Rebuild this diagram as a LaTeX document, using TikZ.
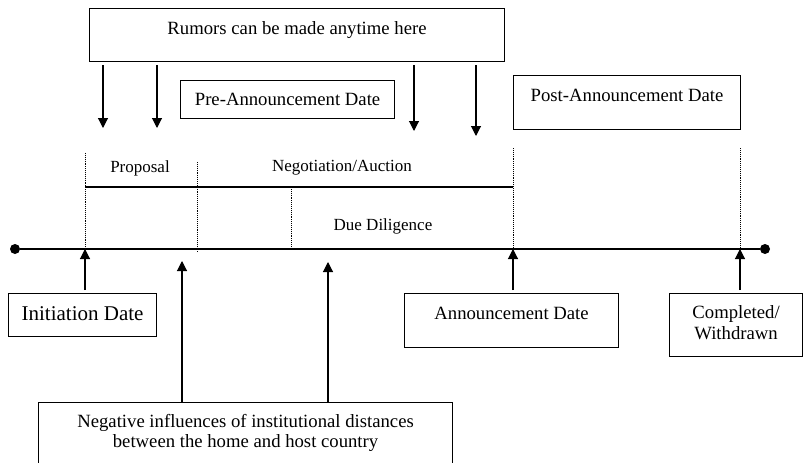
\documentclass[tikz,border=0pt]{standalone}
\usepackage{fontspec}
\setmainfont{Liberation Serif}
\usepackage{tikz}
\usetikzlibrary{arrows.meta, positioning}

\begin{document}
\begin{tikzpicture}[x=1pt, y=-1pt,
    box/.style={draw, line width=1.1pt, inner sep=0pt, anchor=north west,
        font=\fontsize{18.7}{21}\selectfont},
    phasetext/.style={anchor=base, font=\fontsize{17}{20}\selectfont},
    tip/.style={-{Triangle[length=10pt, width=10pt]}, line width=1.1pt},
    phase/.style={densely dotted, line width=0.9pt},
    dot/.style={circle, fill, inner sep=0pt, minimum size=10pt}]

    \useasboundingbox (0,0) rectangle (804,463);
    \clip (0,0) rectangle (804,463);

    % Boxes above the time line
    \node[box, minimum width=415pt, text height=25.5pt, text depth=27.5pt] (rumor) at (89,8) {Rumors can be made anytime here};
    \node[box, minimum width=214pt, text height=24.5pt, text depth=13.5pt] (pre) at (180,80) {Pre-Announcement Date};
    \node[box, minimum width=227pt, text height=26pt, text depth=28pt] (post) at (513,75) {Post-Announcement Date};

    % Time line with its end points
    \node[dot] (tstart) at (15,249) {};
    \node[dot] (tend) at (765,249) {};
    \draw[line width=1.2pt] (tstart) -- (tend);

    % Phase borders
    \coordinate (p0top) at (85,153);  \coordinate (p0) at (85,249);
    \coordinate (p1top) at (197,162); \coordinate (p1) at (197,253);
    \coordinate (p2top) at (291,187); \coordinate (p2) at (291,249);
    \coordinate (p3top) at (513,148); \coordinate (p3) at (513,249);
    \coordinate (p4top) at (740,148); \coordinate (p4) at (740,249);
    \foreach \p in {p0,p1,p2,p3,p4}
        \draw[phase] (\p top) -- (\p);
    \coordinate (negleft) at (85,187);
    \coordinate (negright) at (513,187);
    \draw[line width=1.1pt] (negleft) -- (negright);

    % Phase labels
    \node[phasetext] (proposal) at (140,172) {Proposal};
    \node[phasetext] (negotiation) at (342,171) {Negotiation/Auction};
    \node[phasetext] (diligence) at (383,230) {Due Diligence};

    % Rumors can hit anywhere
    \coordinate (r1) at (103,128);
    \coordinate (r2) at (157,128);
    \coordinate (r3) at (414,131);
    \coordinate (r4) at (476,136);
    \foreach \r in {r1,r2,r3,r4}
        \draw[tip, shorten <=3pt] (rumor.south -| \r) -- (\r);

    % Boxes below the time line
    \node[box, minimum width=148pt, text height=27pt, text depth=16pt, font=\fontsize{21}{24}\selectfont] (init) at (8,293) {Initiation Date};
    \node[box, minimum width=214pt, text height=26pt, text depth=28pt] (announce) at (404,293) {Announcement Date};
    \node[box, minimum width=133pt, text height=46pt, text depth=17pt, align=center] (done) at (669,293) {Completed/\\Withdrawn};
    \node[box, minimum width=414pt, text height=45pt, text depth=40pt, align=center,
        font=\fontsize{18.7}{20}\selectfont] (negative) at (38,402) {Negative influences of institutional distances\\between the home and host country};

    % Dates pointing at the time line
    \draw[tip, shorten <=3pt] (init.north -| p0) -- (p0);
    \draw[tip, shorten <=3pt] (announce.north -| p3) -- (p3);
    \draw[tip, shorten <=3pt] (done.north -| p4) -- (p4);

    % Negative influences
    \coordinate (n1) at (182,261);
    \coordinate (n2) at (328,262);
    \draw[tip] (negative.north -| n1) -- (n1);
    \draw[tip] (negative.north -| n2) -- (n2);

\end{tikzpicture}
\end{document}
